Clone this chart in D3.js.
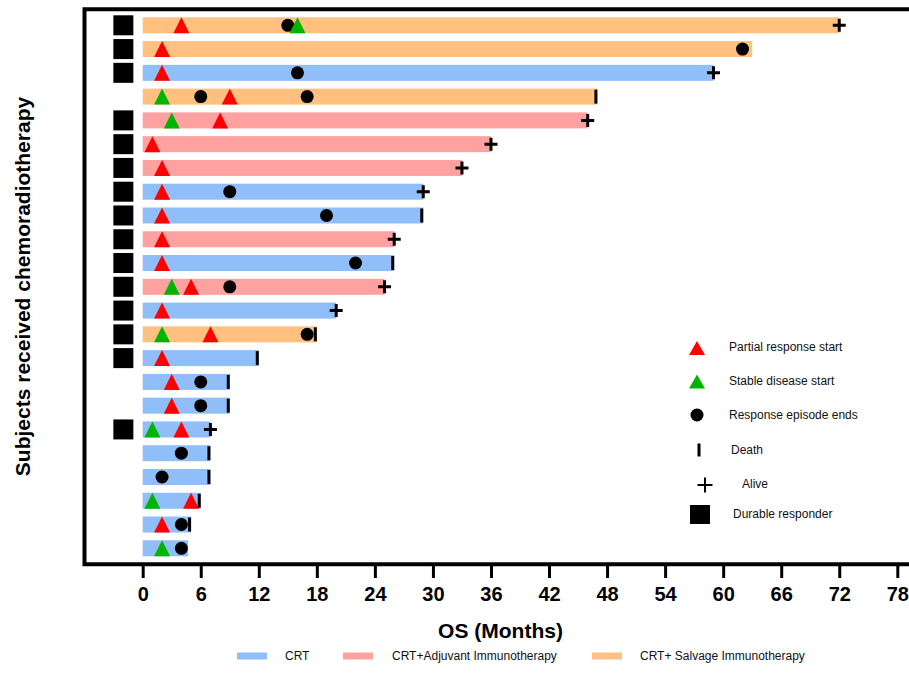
<!DOCTYPE html>
<html>
<head>
<meta charset="utf-8">
<script src="https://cdn.jsdelivr.net/npm/d3@7"></script>
<style>
  body { margin: 0; background: #fff; }
  svg { display: block; font-family: "Liberation Sans", Arial, Helvetica, sans-serif; }
</style>
</head>
<body>
<svg id="chart" width="909" height="694"></svg>
<script>
// One row per subject, ordered by overall survival (months)
const subjects = d3.range(1, 24);
const osMonths = [72, 63, 59, 47, 46, 36, 33, 29, 29, 26, 26, 25, 20, 18, 12, 9, 9, 7, 7, 7, 6, 5, 4.7];
const treatment = [
  "Salvage", "Salvage", "CRT", "Salvage", "Adjuvant", "Adjuvant", "Adjuvant", "CRT",
  "CRT", "Adjuvant", "CRT", "Adjuvant", "CRT", "Salvage", "CRT", "CRT",
  "CRT", "CRT", "CRT", "CRT", "CRT", "CRT", "CRT"
];
const vitalStatus = [
  "Alive", "", "Alive", "Death", "Alive", "Alive", "Alive", "Alive",
  "Death", "Alive", "Death", "Alive", "Alive", "Death", "Death", "Death",
  "Death", "Alive", "Death", "Death", "Death", "Death", ""
];
const durableResponder = [1, 1, 1, 0, 1, 1, 1, 1, 1, 1, 1, 1, 1, 1, 1, 0, 0, 1, 0, 0, 0, 0, 0];
const partialResponseStart = [[4], [2], [2], [9], [8], [1], [2], [2], [2], [2], [2], [5], [2], [7], [2], [3], [3], [4], [], [], [5], [2], []];
const stableDiseaseStart = [[16], [], [], [2], [3], [], [], [], [], [], [], [3], [], [2], [], [], [], [1], [], [], [1], [], [2]];
const responseEnds = [[15], [62], [16], [6, 17], [], [], [], [9], [19], [], [22], [9], [], [17], [], [6], [6], [], [4], [2], [], [4], [4]];
const xTicks = d3.range(0, 79, 6);

const treatmentKeys = ["CRT", "Adjuvant", "Salvage"];
const treatmentLabels = ["CRT", "CRT+Adjuvant Immunotherapy", "CRT+ Salvage Immunotherapy"];
const treatmentColor = d3.scaleOrdinal().domain(treatmentKeys).range(["#8fbef8", "#ffa1a1", "#ffc080"]);

const svg = d3.select("#chart");
const x = d3.scaleLinear().domain([0, 78]).range([142.7, 897.3]);
const y = d3.scalePoint().domain(subjects).range([25.3, 548.3]);
const barH = 16;

const rows = subjects.map((s, i) => ({
  s, os: osMonths[i], tx: treatment[i], status: vitalStatus[i], durable: durableResponder[i]
}));

// Treatment bars
svg.append("g").selectAll("rect").data(rows).join("rect")
  .attr("x", x(0))
  .attr("y", d => y(d.s) - barH / 2)
  .attr("width", d => x(d.os) - x(0))
  .attr("height", barH)
  .attr("fill", d => treatmentColor(d.tx));

// Durable responder squares
svg.append("g").selectAll("rect").data(rows.filter(d => d.durable)).join("rect")
  .attr("x", x(-2) - 10)
  .attr("y", d => y(d.s) - 10)
  .attr("width", 20)
  .attr("height", 20)
  .attr("fill", "#000");

// Response episode end circles
const endPts = subjects.flatMap((s, i) => responseEnds[i].map(m => ({ s, m })));
svg.append("g").selectAll("circle").data(endPts).join("circle")
  .attr("cx", d => x(d.m))
  .attr("cy", d => y(d.s))
  .attr("r", 6.5)
  .attr("fill", "#000");

// Triangles for response starts
const tri = (w, h) => `M0,${-h / 2}L${w / 2},${h / 2}L${-w / 2},${h / 2}Z`;
const triPts = subjects.flatMap((s, i) => [
  ...stableDiseaseStart[i].map(m => ({ s, m, c: "#00b400" })),
  ...partialResponseStart[i].map(m => ({ s, m, c: "#ff0000" }))
]);
svg.append("g").selectAll("path").data(triPts).join("path")
  .attr("d", tri(16, 16))
  .attr("transform", d => `translate(${x(d.m)},${y(d.s)})`)
  .attr("fill", d => d.c);

// Vital status markers at end of bar
const status = svg.append("g");
status.selectAll("rect.death").data(rows.filter(d => d.status === "Death")).join("rect")
  .attr("class", "death")
  .attr("x", d => x(d.os) - 3)
  .attr("y", d => y(d.s) - 7)
  .attr("width", 3)
  .attr("height", 14)
  .attr("fill", "#000");
status.selectAll("path.alive").data(rows.filter(d => d.status === "Alive")).join("path")
  .attr("class", "alive")
  .attr("d", "M-6.5,0H6.5M0,-6.5V6.5")
  .attr("transform", d => `translate(${x(d.os)},${y(d.s)})`)
  .attr("stroke", "#000")
  .attr("stroke-width", 3);

// Frame
svg.append("path")
  .attr("d", "M915,9.3H84.5V564.3H915")
  .attr("fill", "none")
  .attr("stroke", "#000")
  .attr("stroke-width", 4);

// X axis
const xAxis = svg.append("g")
  .attr("transform", "translate(0,566)")
  .call(d3.axisBottom(x).tickValues(xTicks).tickSize(12).tickPadding(9));
xAxis.select(".domain").remove();
xAxis.selectAll(".tick line").attr("stroke", "#000").attr("stroke-width", 3);
xAxis.selectAll(".tick text")
  .attr("fill", "#000")
  .style("font-family", "'Liberation Sans', Arial, sans-serif")
  .style("font-size", "20px")
  .style("font-weight", "bold");

svg.append("text")
  .attr("x", 500.5).attr("y", 638)
  .attr("text-anchor", "middle")
  .style("font-size", "21px").style("font-weight", "bold")
  .text("OS (Months)");

svg.append("text")
  .attr("transform", "translate(30,286.5) rotate(-90)")
  .attr("text-anchor", "middle")
  .style("font-size", "21px").style("font-weight", "bold")
  .text("Subjects received chemoradiotherapy");

// Marker legend
const lg = svg.append("g");
lg.append("path").attr("d", tri(16, 14)).attr("transform", "translate(697,348)").attr("fill", "#ff0000");
lg.append("path").attr("d", tri(16, 14)).attr("transform", "translate(697,381.5)").attr("fill", "#00b400");
lg.append("circle").attr("cx", 697).attr("cy", 415).attr("r", 6.5).attr("fill", "#000");
lg.append("rect").attr("x", 697.5).attr("y", 443.5).attr("width", 3).attr("height", 13).attr("fill", "#000");
lg.append("path").attr("d", "M-7.5,0H7.5M0,-7.5V7.5").attr("transform", "translate(705,485)")
  .attr("stroke", "#000").attr("stroke-width", 2);
lg.append("rect").attr("x", 690).attr("y", 505).attr("width", 20).attr("height", 19).attr("fill", "#000");
const lgText = [
  ["Partial response start", 729, 347],
  ["Stable disease start", 729, 381],
  ["Response episode ends", 729, 414.5],
  ["Death", 731, 449.5],
  ["Alive", 742, 484],
  ["Durable responder", 733, 514]
];
lg.selectAll("text").data(lgText).join("text")
  .attr("x", d => d[1]).attr("y", d => d[2])
  .attr("dy", "0.35em")
  .style("font-size", "12px")
  .attr("fill", "#111")
  .text(d => d[0]);

// Treatment legend
const tl = svg.append("g").selectAll("g").data(treatmentKeys).join("g")
  .attr("transform", (d, i) => `translate(${[237, 343, 592][i]},656)`);
tl.append("rect").attr("x", 0).attr("y", -3.5).attr("width", 30).attr("height", 7)
  .attr("fill", d => treatmentColor(d));
tl.append("text").attr("x", (d, i) => [48, 49, 48][i]).attr("y", 0).attr("dy", "0.35em")
  .style("font-size", "12px").attr("fill", "#111")
  .text((d, i) => treatmentLabels[i]);
</script>
</body>
</html>
